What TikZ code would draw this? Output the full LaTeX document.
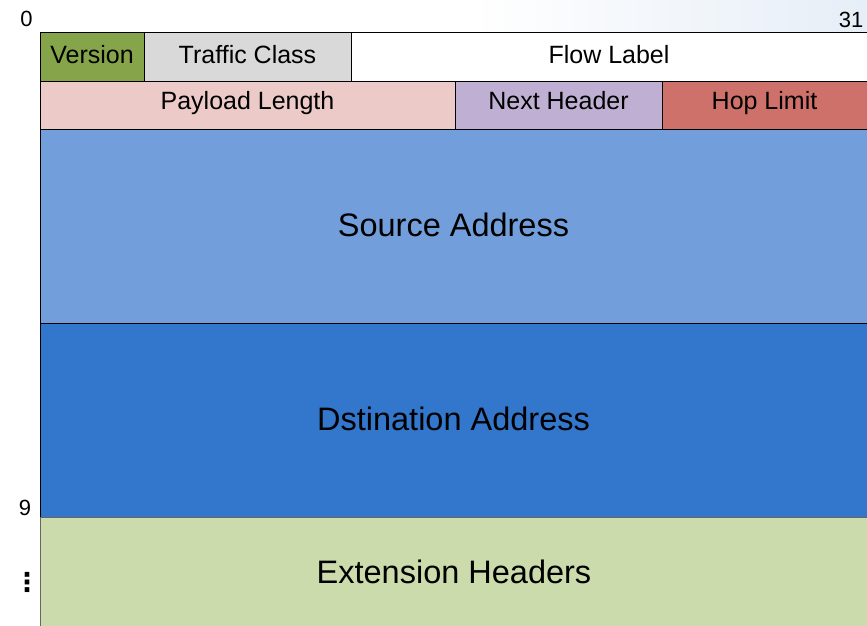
\documentclass[tikz,border=0pt]{standalone}
\usepackage{fontspec}
\setmainfont{Liberation Sans}
\newfontfamily\dejavu{DejaVu Sans}
\definecolor{cver}{HTML}{86A44A}
\definecolor{ctc}{HTML}{D9D9D9}
\definecolor{cpl}{HTML}{EBCAC8}
\definecolor{cnh}{HTML}{BFB0D3}
\definecolor{chl}{HTML}{CD716A}
\definecolor{csrc}{HTML}{729FDB}
\definecolor{cdst}{HTML}{3377CC}
\definecolor{cext}{HTML}{CBDBAB}
\definecolor{cwash}{HTML}{E6EEF7}
\begin{document}
\begin{tikzpicture}[x=1pt,y=-1pt,
  field/.style={draw=black, line width=0.9pt, inner sep=0pt, outer sep=0pt, anchor=north west, text=black},
  rowone/.style={font=\fontsize{25}{30}\selectfont, text height=18pt, text depth=4.4pt},
  rowtwo/.style={font=\fontsize{25}{30}\selectfont, text height=18pt, text depth=10pt},
  big/.style={font=\fontsize{32.5}{38}\selectfont, text height=24pt, text depth=4pt},
  num/.style={font=\fontsize{22}{26}\selectfont, inner sep=0pt, anchor=base}]
\useasboundingbox (0,0) rectangle (867,625);
\clip (0,0) rectangle (867,625);
\fill[white] (0,0) rectangle (867,625);
\shade[left color=white, right color=cwash, shading angle=90] (470,0) rectangle (867,32);
% row 1
\node[field, rowone, fill=cver, minimum width=104pt, minimum height=49pt] (ver) at (40,32) {Version};
\node[field, rowone, fill=ctc, minimum width=207pt, minimum height=49pt] (tc) at (144,32) {Traffic Class};
\node[field, rowone, fill=white, minimum width=516pt, minimum height=49pt] (fl) at (351,32) {Flow Label};
% row 2
\node[field, rowtwo, fill=cpl, minimum width=415pt, minimum height=48pt] (pl) at (40,81) {Payload Length};
\node[field, rowtwo, fill=cnh, minimum width=207pt, minimum height=48pt] (nh) at (455,81) {Next Header};
\node[field, rowtwo, fill=chl, minimum width=205pt, minimum height=48pt] (hl) at (662,81) {Hop Limit};
% addresses
\node[field, big, fill=csrc, minimum width=827pt, minimum height=194pt] (src) at (40,129) {Source Address};
\node[field, big, fill=cdst, minimum width=827pt, minimum height=194pt] (dst) at (40,323) {Dstination Address};
\node[field, draw=black!60, fill=cext, minimum width=827pt, minimum height=120pt] (ext) at (40,517) {};
\node[font=\fontsize{32.5}{38}\selectfont, anchor=base, inner sep=0pt] (extl) at (454,583) {Extension Headers};
% bit labels
\node[num] (n0) at (26.5,26) {0};
\node[num] (n31) at (851,27) {31};
\node[num] (n9) at (25,515) {9};
\node[inner sep=0pt, font=\dejavu\bfseries\fontsize{26}{30}\selectfont] (ndots) at (27,582) {⋮};
\end{tikzpicture}
\end{document}
